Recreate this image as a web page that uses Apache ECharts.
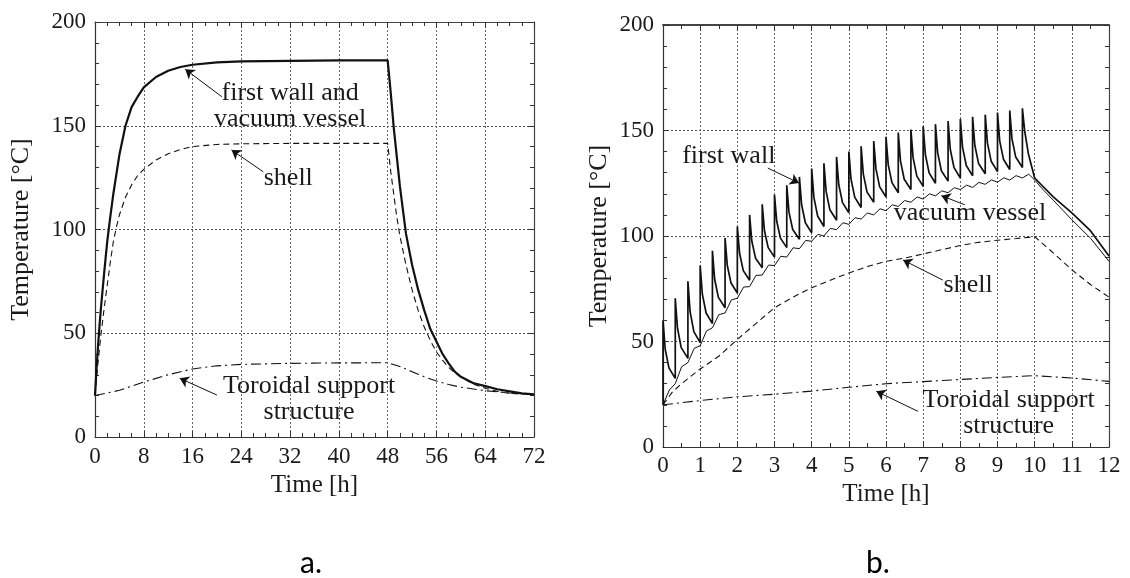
<!DOCTYPE html>
<html>
<head>
<meta charset="utf-8">
<style>html,body{margin:0;padding:0;background:#fff}#main{width:1130px;height:578px}</style>
</head>
<body>
<div id="main"></div>
<script src="https://cdn.jsdelivr.net/npm/echarts@6/dist/echarts.min.js"></script>
<script>
// ---------- (a) 72 h cycle ----------
var aWallT = [0,0.25,0.5,0.75,1,1.5,2,2.5,3,4,5,6,7,8,10,12,14,16,20,24,32,40,48,48.5,49,49.5,50,51,52,53,54,55,56,57,58,59,60,62,64,66,68,70,72];
var aWallV = [20,33,44,54,63,79,94,106,117,136,150,159,164,168.5,173.5,176.5,178.3,179.4,180.5,181,181.3,181.5,181.5,166,149,135,121,98,83,71,61,52,46,40,35.5,31.5,29,26,24.5,23,22,21,20.5];
var aShellT = [0,0.5,1,1.5,2,2.5,3,3.5,4,5,6,7,8,10,12,14,16,20,24,32,40,48,48.5,49,49.5,50,51,52,53,54,55,56,57,58,59,60,62,64,66,68,70,72];
var aShellV = [20,36,50,62,73,84,94,101,107,115.5,121.5,126,129,133.5,136.5,138.5,140,141,141.3,141.5,141.5,141.5,128,117,106,97,83,71,61,53,46.5,41,37,33.5,31,29,25.5,23.5,22,21,20.7,20.5];
var aToroT = [0,4,8,12,16,20,24,32,40,48,50,52,54,56,58,60,64,68,72];
var aToroV = [20,22.5,26.5,30,32.8,34.3,35,35.5,35.7,35.8,34,31.5,29,27,25.3,24,22.3,21.2,20.5];

// ---------- (b) 12 h, pulsed operation ----------
var bSpikeT = [0,0.33,0.67,1,1.33,1.67,2,2.33,2.67,3,3.33,3.67,4,4.33,4.67,5,5.33,5.67,6,6.33,6.67,7,7.33,7.67,8,8.33,8.67,9,9.33,9.67];
var bWallPeak = [60,70.5,78.5,86,93,99,104.5,110,115,119.5,124,128,132,134.5,137.5,140,142.5,145,147,149,150.5,152,153,154.5,155.5,156.5,157.5,158.5,159.5,160.5];
var bWallA = [46.3,56.3,64,72.3,79.5,86,91.8,97.5,102.5,107,111.3,114.8,118.3,121,124.3,126.8,129.3,131.8,133.8,135.5,137,138.5,139.5,141,142,143,144,145,146,150];
var bWallB = [37.5,47.1,54.7,63.5,70.9,77.7,83.6,89.5,94.5,99,103.1,106.3,109.5,112.4,115.8,118.3,120.8,123.3,125.3,126.9,128.4,129.9,130.9,132.4,133.4,134.4,135.4,136.4,137.4,139];
var bWallTrough = [32.5,42,49.5,58.5,66,73,79,85,90,94.5,98.5,101.5,104.5,107.5,111,113.5,116,118.5,120.5,122,123.5,125,126,127.5,128.5,129.5,130.5,131.5,132.5,127.5];
var toothOffsets = [0.06, 0.16];
var bBurnEnd = 10;
var bWallCoolT = [10.5,11,11.5,12];
var bWallCoolV = [118.5,111,102.5,90.5];

var bVesselCusp = [20,30,40,48,56.5,63.5,70.5,76,81.5,86,90,94,97.5,100,103,105.5,108,110,112,114,116,117.5,119,120.5,122,123,124.5,125.5,126.5,127.5,126.5];
var bVesselMid = [27,38,46.8,55,62.7,69.7,75.8,81.3,86.2,90.4,94.4,97.9,100.8,103.6,106.3,108.7,110.9,112.9,114.8,116.8,118.5,120,121.4,122.9,124.1,125.4,126.6,127.6,128.6,129.3];
var vesselMidOffset = 0.17;
var bVesselCoolT = [10.25,10.5,11,11.5,12];
var bVesselCoolV = [121.5,117,107.7,99,88];

var bShellT = [0,0.25,0.5,1,1.5,2,2.5,3,3.5,4,4.5,5,5.5,6,6.5,7,7.5,8,8.5,9,9.5,10,10.5,11,11.5,12];
var bShellV = [20,26,30,37,43,51,58.5,66,71,75.5,79,82.5,85.5,88,89.5,91.5,93.5,95.5,97,98,98.8,99.7,92,84,77,71];
var bToroT = [0,1,2,3,4,5,6,7,8,9,10,11,12];
var bToroV = [20,22,23.8,25,26.5,28.3,30,31,32,33,33.8,32.7,31.1];

var yTicks = [0,50,100,150,200];

function pairs(t, v) {
    var out = [];
    for (var i = 0; i < t.length; i++) out.push([t[i], v[i]]);
    return out;
}

// first wall: vertical rise at every pulse, then decay
var bWall = [[0, 20]];
for (var k = 0; k < bSpikeT.length; k++) {
    var t0 = bSpikeT[k];
    var tEnd = k + 1 < bSpikeT.length ? bSpikeT[k + 1] : bBurnEnd;
    bWall.push([t0, bWallPeak[k]]);
    bWall.push([t0 + toothOffsets[0], bWallA[k]]);
    bWall.push([t0 + toothOffsets[1], bWallB[k]]);
    bWall.push([tEnd, bWallTrough[k]]);
}
bWall = bWall.concat(pairs(bWallCoolT, bWallCoolV));

var bVessel = [];
for (var k = 0; k < bSpikeT.length; k++) {
    bVessel.push([bSpikeT[k], bVesselCusp[k]]);
    bVessel.push([bSpikeT[k] + vesselMidOffset, bVesselMid[k]]);
}
bVessel.push([bBurnEnd, bVesselCusp[bSpikeT.length]]);
bVessel = bVessel.concat(pairs(bVesselCoolT, bVesselCoolV));

var serif = '"Liberation Serif", "Times New Roman", serif';
var ink = '#1a1a1a';
var DASH = [6, 4];
var DASHDOT = [10, 4, 2, 4];

function mainX(grid, max, step, minorSplit) {
    return {
        type: 'value', gridIndex: grid, min: 0, max: max, interval: step,
        name: 'Time [h]', nameLocation: 'middle', nameGap: 35,
        nameTextStyle: {fontFamily: serif, fontSize: 25, color: ink},
        axisLine: {onZero: false, lineStyle: {color: '#333', width: 1.2}},
        axisTick: {inside: true, length: 6, lineStyle: {color: '#333'}},
        minorTick: {show: true, splitNumber: minorSplit, length: 4, lineStyle: {color: '#333'}},
        axisLabel: {fontFamily: serif, fontSize: 23, color: ink, margin: grid ? 7 : 8},
        splitLine: {show: true, lineStyle: {type: [2, 2], color: '#666', width: 1}}
    };
}
function mirrorX(grid, max, step, minorSplit) {
    return {
        type: 'value', gridIndex: grid, position: 'top', min: 0, max: max, interval: step,
        axisLine: {onZero: false, lineStyle: {color: '#444', width: grid ? 1.8 : 1.2}},
        axisTick: {inside: true, length: 6, lineStyle: {color: '#333'}},
        minorTick: {show: true, splitNumber: minorSplit, length: 4, lineStyle: {color: '#333'}},
        axisLabel: {show: false}, splitLine: {show: false}
    };
}
function mainY(grid, gap) {
    return {
        type: 'value', gridIndex: grid, min: 0, max: 200, interval: 50,
        name: 'Temperature [°C]', nameLocation: 'middle', nameGap: gap,
        nameTextStyle: {fontFamily: serif, fontSize: 26, color: ink},
        axisLine: {show: true, onZero: false, lineStyle: {color: '#333', width: 1.2}},
        axisTick: {show: true, inside: true, length: 6, lineStyle: {color: '#333'}},
        minorTick: {show: true, splitNumber: 5, length: 4, lineStyle: {color: '#333'}},
        axisLabel: {fontFamily: serif, fontSize: 23, color: ink, margin: 9,
            formatter: function (v) { return yTicks.indexOf(v) >= 0 ? String(v) : ''; }},
        splitLine: {show: true, lineStyle: {type: [2, 2], color: '#555', width: 1}}
    };
}
function mirrorY(grid) {
    return {
        type: 'value', gridIndex: grid, position: 'right', min: 0, max: 200, interval: 50,
        axisLine: {show: true, onZero: false, lineStyle: {color: '#444', width: 1.2}},
        axisTick: {show: true, inside: true, length: 6, lineStyle: {color: '#333'}},
        minorTick: {show: true, splitNumber: 5, length: 4, lineStyle: {color: '#333'}},
        axisLabel: {show: false}, splitLine: {show: false}
    };
}

function arrow(from, to) {
    return {
        silent: true, symbol: ['none', 'arrow'], symbolSize: 9,
        lineStyle: {type: 'solid', color: '#111', width: 1},
        label: {show: false}, emphasis: {disabled: true},
        data: [[{coord: from}, {coord: to}]]
    };
}

function line(name, xi, yi, data, width, type, mark) {
    return {
        name: name, type: 'line', xAxisIndex: xi, yAxisIndex: yi, data: data,
        showSymbol: false, symbol: 'none', smooth: false,
        lineStyle: {color: '#111', width: width, type: type},
        markLine: mark
    };
}

var dom = document.getElementById('main');
var myChart = echarts.init(dom, null, {renderer: 'canvas'});
var option = {
    animation: false,
    backgroundColor: '#fff',
    grid: [
        {left: 95, top: 22, width: 439, height: 415},
        {left: 663, top: 25, width: 446, height: 422}
    ],
    xAxis: [mainX(0, 72, 8, 4), mirrorX(0, 72, 8, 4), mainX(1, 12, 1, 2), mirrorX(1, 12, 1, 2)],
    yAxis: [mainY(0, 61), mirrorY(0), mainY(1, 51), mirrorY(1)],
    series: [
        line('first wall and vacuum vessel', 0, 0, pairs(aWallT, aWallV), 2.2, 'solid', arrow([20.8, 164], [14.8, 177.2])),
        line('shell', 0, 0, pairs(aShellT, aShellV), 1.1, DASH, arrow([27.6, 127.8], [22.4, 138.3])),
        line('Toroidal support structure', 0, 0, pairs(aToroT, aToroV), 1.1, DASHDOT, arrow([20, 20.2], [13.9, 28.3])),
        line('first wall', 2, 2, bWall, 1.7, 'solid', arrow([2.82, 132.2], [3.66, 125.1])),
        line('vacuum vessel', 2, 2, bVessel, 1, 'solid', arrow([8.12, 114.8], [7.49, 119.1])),
        line('shell', 2, 2, pairs(bShellT, bShellV), 1.1, DASH, arrow([7.53, 79.1], [6.46, 88.6])),
        line('Toroidal support structure', 2, 2, pairs(bToroT, bToroV), 1.1, DASHDOT, arrow([6.86, 16.9], [5.74, 26.4]))
    ]
};
myChart.setOption(option);

// curve labels, anchored in data coordinates
var notes = [
    {grid: 0, at: [32, 159.3], text: 'first wall and\nvacuum vessel'},
    {grid: 0, at: [31.7, 124.8], text: 'shell'},
    {grid: 0, at: [35.1, 18.2], text: 'Toroidal support\nstructure'},
    {grid: 1, at: [1.77, 137.6], text: 'first wall'},
    {grid: 1, at: [8.26, 111], text: 'vacuum vessel'},
    {grid: 1, at: [8.21, 76.9], text: 'shell'},
    {grid: 1, at: [9.3, 15.8], text: 'Toroidal support\nstructure'}
];
var graphics = notes.map(function (n) {
    var p = myChart.convertToPixel({gridIndex: n.grid}, n.at);
    return {
        type: 'text', x: p[0], y: p[1], silent: true,
        style: {text: n.text, font: '26px ' + serif, fill: ink,
            textAlign: 'center', textVerticalAlign: 'middle', lineHeight: 26}
    };
});
graphics.push({type: 'text', x: 311, y: 563, style: {text: 'a.', font: '30px Lato, "Open Sans", sans-serif', fill: '#000', textAlign: 'center', textVerticalAlign: 'middle'}});
graphics.push({type: 'text', x: 878, y: 563, style: {text: 'b.', font: '30px Lato, "Open Sans", sans-serif', fill: '#000', textAlign: 'center', textVerticalAlign: 'middle'}});
myChart.setOption({graphic: graphics});
</script>
</body>
</html>
